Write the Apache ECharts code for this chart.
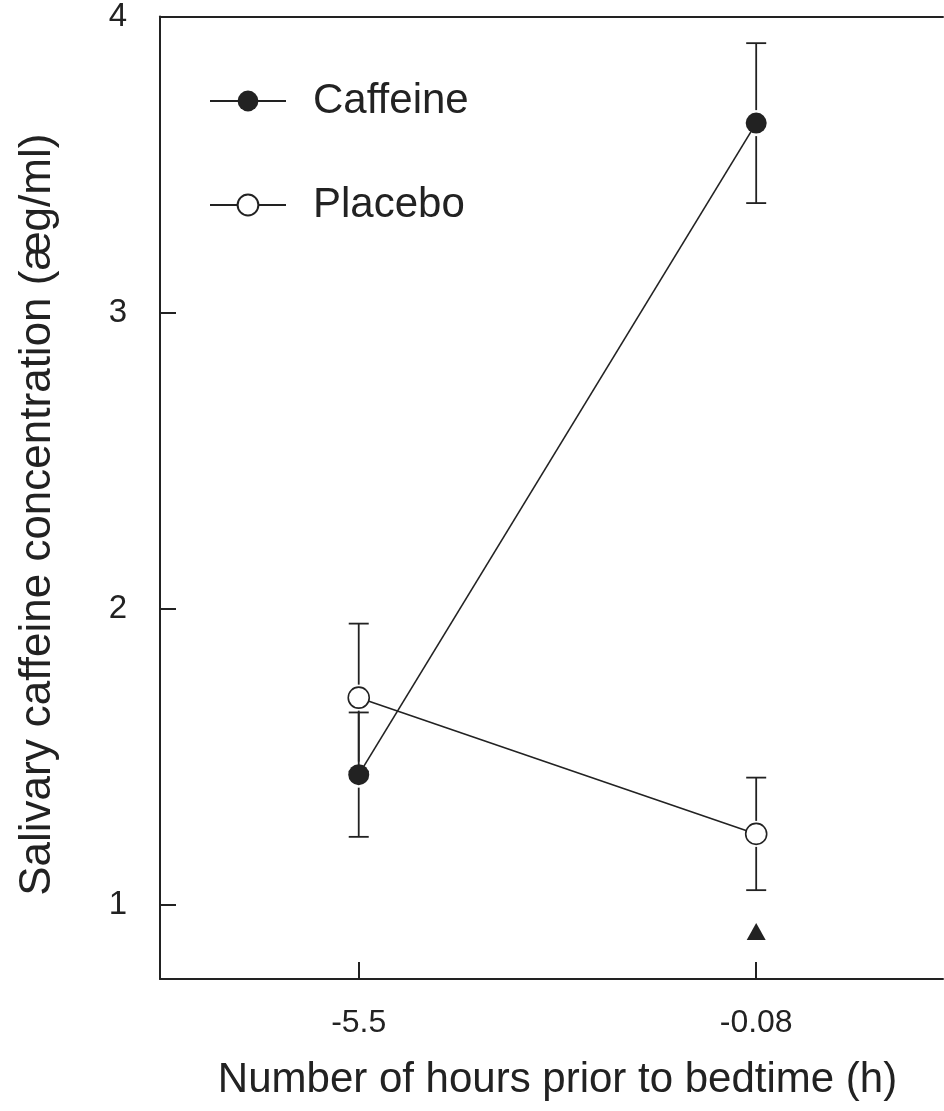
<!DOCTYPE html>
<html>
<head>
<meta charset="utf-8">
<script src="https://cdn.jsdelivr.net/npm/echarts@6/dist/echarts.min.js"></script>
<style>
  html, body { margin: 0; padding: 0; background: #fff; }
  #chart { width: 944px; height: 1111px; }
</style>
</head>
<body>
<div id="chart"></div>
<script>
// values
var categories = ['-5.5', '-0.08'];
var caffeine = [1.44, 3.64];
var caffeineErr = [0.21, 0.27];
var placebo = [1.70, 1.24];
var placeboErr = [0.25, 0.19];
var sigMarker = [null, 0.91];
var yTicks = [1, 2, 3, 4];

var ink = '#222';
var font = '"Liberation Sans", Arial, sans-serif';

function pts(vals) {
  return vals.map(function (v, i) { return [i, v]; });
}
function errData(vals, errs) {
  return vals.map(function (v, i) { return [i, v, errs[i]]; });
}

// whiskers + caps, leaving a small gap round the marker
function renderErr(params, api) {
  var x = api.value(0), y = api.value(1), e = api.value(2);
  var c = api.coord([x, y]);
  var top = api.coord([x, y + e]);
  var bot = api.coord([x, y - e]);
  var gap = 13, half = 10;
  var st = { stroke: ink, lineWidth: 1.8 };
  return {
    type: 'group',
    children: [
      { type: 'line', shape: { x1: c[0] - half, y1: top[1], x2: c[0] + half, y2: top[1] }, style: st },
      { type: 'line', shape: { x1: c[0], y1: top[1], x2: c[0], y2: c[1] - gap }, style: st },
      { type: 'line', shape: { x1: c[0], y1: c[1] + gap, x2: c[0], y2: bot[1] }, style: st },
      { type: 'line', shape: { x1: c[0] - half, y1: bot[1], x2: c[0] + half, y2: bot[1] }, style: st }
    ]
  };
}

var chart = echarts.init(document.getElementById('chart'));
chart.setOption({
  backgroundColor: '#fff',
  animation: false,
  textStyle: { fontFamily: font, color: ink },
  grid: { left: 160, right: 1, top: 16, bottom: 132 },
  legend: {
    data: ['Caffeine', 'Placebo'],
    orient: 'vertical',
    left: 209,
    top: 76,
    padding: 0,
    itemWidth: 76,
    itemHeight: 26,
    itemGap: 54,
    textStyle: { fontSize: 42, color: ink, fontFamily: font, lineHeight: 50, padding: [0, 0, 0, 22] }
  },
  xAxis: [
    {
      type: 'value',
      min: -0.5,
      max: 1.47,
      name: 'Number of hours prior to bedtime (h)',
      nameLocation: 'middle',
      nameGap: 80,
      nameTextStyle: { fontSize: 42, color: ink, fontFamily: font, padding: [0, 0, 0, 12] },
      axisLine: { onZero: false, lineStyle: { color: ink, width: 2 } },
      axisTick: { inside: true, length: 17, lineStyle: { color: ink, width: 2 }, customValues: [0, 1] },
      axisLabel: {
        fontSize: 32, color: ink, margin: 28, fontFamily: font,
        customValues: [0, 1],
        formatter: function (v) { return categories[Math.round(v)]; }
      },
      splitLine: { show: false }
    },
    {
      type: 'value',
      position: 'top',
      min: -0.5,
      max: 1.47,
      axisLine: { onZero: false, lineStyle: { color: ink, width: 2 } },
      axisTick: { show: false },
      axisLabel: { show: false },
      splitLine: { show: false }
    }
  ],
  yAxis: {
    type: 'value',
    min: 0.75,
    max: 4,
    name: 'Salivary caffeine concentration (æg/ml)',
    nameLocation: 'middle',
    nameGap: 100,
    nameTextStyle: { fontSize: 44, color: ink, fontFamily: font, padding: [0, 34, 0, 0] },
    axisLine: { show: true, onZero: false, lineStyle: { color: ink, width: 2 } },
    axisTick: { show: true, inside: true, length: 16, lineStyle: { color: ink, width: 2 }, customValues: yTicks },
    axisLabel: { fontSize: 33, color: ink, margin: 33, fontFamily: font, customValues: yTicks },
    splitLine: { show: false }
  },
  series: [
    {
      type: 'custom',
      name: 'caffeineErr',
      renderItem: renderErr,
      data: errData(caffeine, caffeineErr),
      z: 1
    },
    {
      type: 'custom',
      name: 'placeboErr',
      renderItem: renderErr,
      data: errData(placebo, placeboErr),
      z: 1
    },
    {
      type: 'line',
      name: 'Caffeine',
      data: pts(caffeine),
      symbol: 'circle',
      symbolSize: 21,
      itemStyle: { color: ink },
      lineStyle: { color: ink, width: 1.6 },
      z: 3
    },
    {
      type: 'line',
      name: 'Placebo',
      data: pts(placebo),
      symbol: 'circle',
      symbolSize: 21,
      itemStyle: { color: '#fff', borderColor: ink, borderWidth: 1.6 },
      lineStyle: { color: ink, width: 1.6 },
      z: 4
    },
    {
      type: 'scatter',
      name: 'sig',
      data: pts(sigMarker),
      symbol: 'triangle',
      symbolSize: [19, 17],
      itemStyle: { color: ink, opacity: 1 },
      z: 3
    }
  ]
});
</script>
</body>
</html>
